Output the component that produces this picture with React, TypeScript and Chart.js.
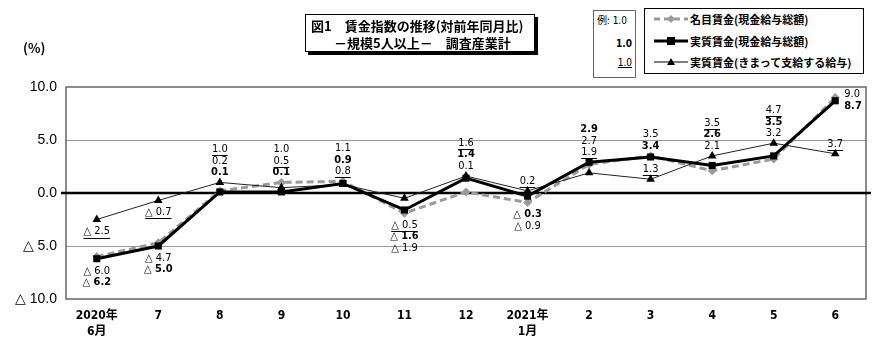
import React, { useEffect, useRef } from "react";
import { Chart, registerables } from "chart.js";

Chart.register(...registerables);

const categories: (string | string[])[] = [
  ["2020年", "6月"], "7", "8", "9", "10", "11", "12", ["2021年", "1月"], "2", "3", "4", "5", "6",
];
const nominal = [-6.0, -4.7, 0.2, 1.0, 1.1, -1.9, 0.1, -0.9, 2.7, 3.5, 2.1, 3.2, 9.0];
const real = [-6.2, -5.0, 0.1, 0.1, 0.9, -1.6, 1.4, -0.3, 2.9, 3.4, 2.6, 3.5, 8.7];
const scheduled = [-2.5, -0.7, 1.0, 0.5, 0.8, -0.5, 1.6, 0.2, 1.9, 1.3, 3.5, 4.7, 3.7];
const seriesNames = ["名目賃金(現金給与総額)", "実質賃金(現金給与総額)", "実質賃金(きまって支給する給与)"];
const yTicks = [-10, -5, 0, 5, 10];

// label stacking layout: series order (top to bottom) and side relative to points
type Group = { s: number[]; pos: "a" | "b" | "r" };
const labelLayout: Group[][] = [
  [{ s: [2], pos: "b" }, { s: [0, 1], pos: "b" }],
  [{ s: [2], pos: "b" }, { s: [0, 1], pos: "b" }],
  [{ s: [2, 0, 1], pos: "a" }],
  [{ s: [0, 2, 1], pos: "a" }],
  [{ s: [0, 1, 2], pos: "a" }],
  [{ s: [2, 1, 0], pos: "b" }],
  [{ s: [2, 1, 0], pos: "a" }],
  [{ s: [2], pos: "a" }, { s: [1, 0], pos: "b" }],
  [{ s: [1, 0, 2], pos: "a" }],
  [{ s: [0, 1], pos: "a" }, { s: [2], pos: "a" }],
  [{ s: [2, 1, 0], pos: "a" }],
  [{ s: [2, 1, 0], pos: "a" }],
  [{ s: [0, 1], pos: "r" }, { s: [2], pos: "a" }],
];

const NUM_FONT = '"Liberation Sans Narrow", "DejaVu Sans Condensed", "Noto Sans CJK JP", sans-serif';
const JP_FONT = '"Noto Sans CJK JP", sans-serif';

function fmt(v: number): string {
  return v < 0 ? "△ " + Math.abs(v).toFixed(1) : v.toFixed(1);
}

const series = [nominal, real, scheduled];

const decorPlugin = {
  id: "decor",
  beforeDatasetsDraw(chart: any) {
    const { ctx, chartArea, scales } = chart;
    ctx.save();
    ctx.strokeStyle = "#666";
    ctx.lineWidth = 1.5;
    ctx.strokeRect(chartArea.left, chartArea.top, chartArea.right - chartArea.left, chartArea.bottom - chartArea.top);
    const y0 = scales.y.getPixelForValue(0);
    ctx.strokeStyle = "#000";
    ctx.lineWidth = 2.5;
    ctx.beginPath();
    ctx.moveTo(chartArea.left - 5, y0);
    ctx.lineTo(chartArea.right + 5, y0);
    ctx.stroke();
    ctx.restore();
  },
  afterDatasetsDraw(chart: any) {
    const { ctx, scales } = chart;
    const sp = 11.5;
    ctx.save();
    ctx.textBaseline = "middle";
    labelLayout.forEach((groups, i) => {
      const x = scales.x.getPixelForValue(i);
      groups.forEach((g) => {
        const ys = g.s.map((k) => scales.y.getPixelForValue(series[k][i]));
        let start = 0;
        let tx = x;
        let align: CanvasTextAlign = "center";
        if (g.pos === "a") {
          start = Math.min(...ys) - 10 - sp * (g.s.length - 1);
        } else if (g.pos === "b") {
          start = Math.max(...ys) + 12;
        } else {
          const mid = ys.reduce((a, b) => a + b, 0) / ys.length;
          start = mid - (sp * (g.s.length - 1)) / 2 + 1;
          tx = x + 9;
          align = "left";
        }
        g.s.forEach((k, j) => {
          const ty = start + j * sp;
          const txt = fmt(series[k][i]);
          ctx.font = (k === 1 ? "bold " : "") + "11px " + NUM_FONT;
          ctx.fillStyle = "#000";
          ctx.textAlign = align;
          ctx.fillText(txt, tx, ty);
          if (k === 2) {
            const w = ctx.measureText(txt).width;
            const lx = align === "center" ? tx - w / 2 : tx;
            ctx.strokeStyle = "#000";
            ctx.lineWidth = 1;
            ctx.beginPath();
            ctx.moveTo(lx, Math.round(ty + 6) + 0.5);
            ctx.lineTo(lx + w, Math.round(ty + 6) + 0.5);
            ctx.stroke();
          }
        });
      });
    });
    ctx.restore();
  },
};

function ChartCanvas() {
  const ref = useRef<HTMLCanvasElement>(null);
  useEffect(() => {
    if (!ref.current) return;
    const chart = new Chart(ref.current, {
      type: "line",
      data: {
        labels: categories as any,
        datasets: [
          {
            label: seriesNames[0],
            data: nominal,
            borderColor: "#9a9a9a",
            backgroundColor: "#9a9a9a",
            borderWidth: 3,
            borderDash: [7, 4],
            pointStyle: "rectRot",
            pointRadius: 4.5,
            pointBorderWidth: 0,
            order: 2,
          },
          {
            label: seriesNames[1],
            data: real,
            borderColor: "#000",
            backgroundColor: "#000",
            borderWidth: 3,
            pointStyle: "rect",
            pointRadius: 5,
            pointBorderWidth: 0,
            order: 0,
          },
          {
            label: seriesNames[2],
            data: scheduled,
            borderColor: "#222",
            backgroundColor: "#000",
            borderWidth: 1,
            pointStyle: "triangle",
            pointRadius: 5,
            pointBorderWidth: 0,
            order: 1,
          },
        ],
      },
      options: {
        responsive: false,
        animation: false,
        layout: { padding: { top: 87, right: 24, left: 0, bottom: 0 } },
        plugins: { legend: { display: false }, tooltip: { enabled: false } },
        scales: {
          x: {
            offset: true,
            grid: { display: false },
            border: { display: false },
            afterFit: (s: any) => { s.height = 55; },
            ticks: {
              color: "#000",
              padding: 1,
              maxRotation: 0,
              autoSkip: false,
              font: { family: NUM_FONT, size: 12, weight: "bold", lineHeight: 1.3 },
            },
          },
          y: {
            min: -10,
            max: 10,
            afterFit: (s: any) => { s.width = 66; },
            afterBuildTicks: (s: any) => { s.ticks = yTicks.map((v) => ({ value: v })); },
            border: { display: false },
            grid: {
              drawTicks: false,
              color: (c: any) => (Math.abs(c.tick.value) === 5 ? "#999" : "rgba(0,0,0,0)"),
              lineWidth: 1,
            },
            ticks: {
              color: "#000",
              padding: 9,
              font: { family: '"Liberation Sans", Arial, sans-serif', size: 14 },
              callback: (v: any) => fmt(Number(v)),
            },
          },
        },
      },
      plugins: [decorPlugin],
    });
    return () => chart.destroy();
  }, []);
  return <canvas ref={ref} width={890} height={354} style={{ position: "absolute", left: 0, top: 0 }} />;
}

function LegendRow({ top, idx }: { top: number; idx: number }) {
  const line =
    idx === 0 ? (
      <svg width={36} height={10}>
        <line x1={1} y1={5} x2={35} y2={5} stroke="#9a9a9a" strokeWidth={3} strokeDasharray="6 4" />
        <polygon points="18,1 22,5 18,9 14,5" fill="#9a9a9a" />
      </svg>
    ) : idx === 1 ? (
      <svg width={36} height={10}>
        <line x1={1} y1={5} x2={35} y2={5} stroke="#000" strokeWidth={3} />
        <rect x={14} y={1} width={8} height={8} fill="#000" />
      </svg>
    ) : (
      <svg width={36} height={10}>
        <line x1={1} y1={5} x2={35} y2={5} stroke="#000" strokeWidth={1} />
        <polygon points="18,1 22,8 14,8" fill="#000" />
      </svg>
    );
  return (
    <div style={{ position: "absolute", left: 8, top: top - 8, height: 16, display: "flex", alignItems: "center", whiteSpace: "nowrap" }}>
      {line}
      <span style={{ marginLeft: 1, fontFamily: JP_FONT, fontWeight: "bold", fontSize: 11 }}>{seriesNames[idx]}</span>
    </div>
  );
}

export default function App() {
  return (
    <div style={{ position: "absolute", left: 0, top: 0, width: 890, height: 354, background: "#fff", overflow: "hidden" }}>
      <ChartCanvas />
      <div style={{ position: "absolute", left: 23, top: 38, fontFamily: JP_FONT, fontWeight: "bold", fontSize: 13 }}>(%)</div>
      <div
        style={{
          position: "absolute", left: 305, top: 14, width: 228, height: 36, border: "1px solid #000",
          boxShadow: "3px 3px 0 #000", background: "#fff", fontFamily: JP_FONT, fontWeight: "bold", fontSize: 13,
          lineHeight: "17px", boxSizing: "content-box",
        }}
      >
        <div style={{ paddingLeft: 5, paddingTop: 2 }}>図1　賃金指数の推移(対前年同月比)</div>
        <div style={{ paddingLeft: 28 }}>－規模5人以上－　調査産業計</div>
      </div>
      <div
        style={{
          position: "absolute", left: 593, top: 10, width: 41, height: 66, border: "1px solid #666",
          background: "#fff", fontSize: 10, fontFamily: NUM_FONT, lineHeight: "12px",
        }}
      >
        <div style={{ position: "absolute", left: 3, top: 3, whiteSpace: "nowrap" }}>
          <span style={{ fontFamily: JP_FONT }}>例:</span> 1.0
        </div>
        <div style={{ position: "absolute", right: 3, top: 27, fontWeight: "bold" }}>1.0</div>
        <div style={{ position: "absolute", right: 3, top: 46, textDecoration: "underline" }}>1.0</div>
      </div>
      <div
        style={{ position: "absolute", left: 644, top: 8, width: 218, height: 64, border: "1px solid #000", background: "#fff" }}
      >
        <LegendRow top={10} idx={0} />
        <LegendRow top={32} idx={1} />
        <LegendRow top={53} idx={2} />
      </div>
    </div>
  );
}
